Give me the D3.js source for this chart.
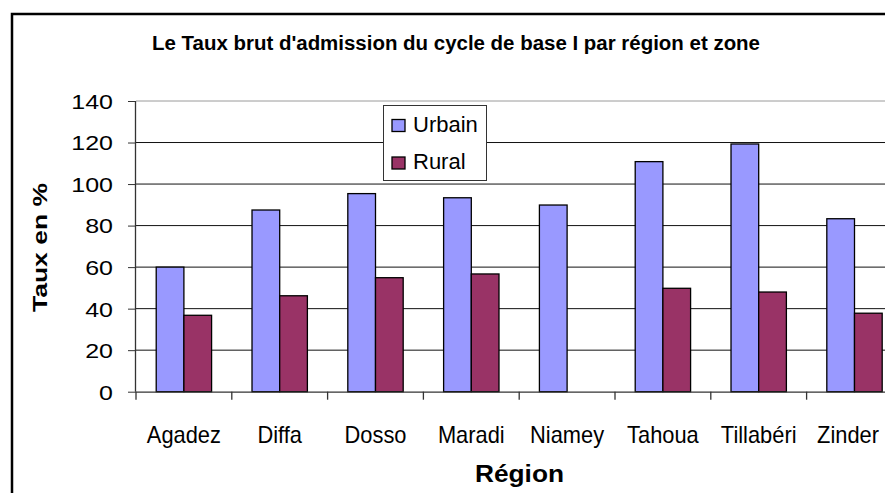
<!DOCTYPE html>
<html><head><meta charset="utf-8">
<script src="https://cdn.jsdelivr.net/npm/d3@7"></script>
<style>
html,body{margin:0;padding:0;background:#fff;overflow:hidden;}
svg{display:block;font-family:"Liberation Sans",Arial,sans-serif;}
</style></head>
<body>
<svg id="chart" width="885" height="493"></svg>
<script>
const title = "Le Taux brut d'admission du cycle de base I par région et zone";
const categories = ["Agadez","Diffa","Dosso","Maradi","Niamey","Tahoua","Tillabéri","Zinder"];
const seriesNames = ["Urbain","Rural"];
const urbain = [60.0, 87.5, 95.4, 93.4, 89.9, 110.8, 119.3, 83.3];
const rural  = [36.8, 46.2, 54.9, 56.7, null, 49.8, 48.0, 37.8];
const yTicks = [0,20,40,60,80,100,120,140];
const colors = ["#9999FF","#993366"];
const yTitle = "Taux en %";
const xTitle = "Région";

const svg = d3.select("#chart");
const plot = {left:136, right:902.4, top:101, bottom:391.7};

// outer frame
svg.append("rect").attr("x",12).attr("y",14).attr("width",960).attr("height",600)
  .attr("fill","#fff").attr("stroke","#000").attr("stroke-width",2.5);

const x = d3.scaleBand().domain(categories).range([plot.left, plot.right]).padding(0);
const xs = d3.scaleBand().domain(seriesNames).range([0, x.bandwidth()]).paddingInner(0).paddingOuter(0.73);
const y = d3.scaleLinear().domain([0,140]).range([plot.bottom, plot.top]);

// gridlines
svg.append("g").selectAll("line").data(yTicks.filter(t=>t>0)).join("line")
  .attr("x1",plot.left).attr("x2",plot.right)
  .attr("y1",d=>y(d)).attr("y2",d=>y(d))
  .attr("stroke",d=>d===140?"#9a9a9a":"#111").attr("stroke-width",1);

// bars
const data = categories.map((c,i)=>({c, vals:[urbain[i], rural[i]]}));
const groups = svg.append("g").selectAll("g").data(data).join("g")
  .attr("transform",d=>`translate(${x(d.c)},0)`);
groups.selectAll("rect").data(d=>d.vals.map((v,j)=>({v, s:seriesNames[j], j})).filter(e=>e.v!=null))
  .join("rect")
  .attr("x",e=>xs(e.s)).attr("width",xs.bandwidth())
  .attr("y",e=>y(e.v)).attr("height",e=>y(0)-y(e.v))
  .attr("fill",e=>colors[e.j]).attr("stroke","#000").attr("stroke-width",1.3);

// y axis
const yAxis = d3.axisLeft(y).tickValues(yTicks).tickSize(8).tickPadding(15);
const gy = svg.append("g").attr("transform",`translate(${plot.left},0)`).call(yAxis);
gy.select(".domain").attr("stroke","#333").attr("stroke-width",1.3).attr("d",`M-0.5,${plot.top}V${plot.bottom}`);
gy.selectAll(".tick line").attr("stroke","#333");
gy.selectAll(".tick text").attr("font-size",20.5).attr("fill","#000")
  .attr("font-family","'Liberation Sans',Arial,sans-serif").attr("dy","0.36em")
  .each(function(){ const w=this.getComputedTextLength(); d3.select(this).attr("textLength",w*1.22).attr("lengthAdjust","spacingAndGlyphs"); });

// x axis
const xAxis = d3.axisBottom(x).tickSize(0).tickFormat(d=>d).tickPadding(0);
const gx = svg.append("g").attr("transform",`translate(0,${plot.bottom})`).call(xAxis);
gx.select(".domain").attr("stroke","#333").attr("stroke-width",1.3).attr("d",`M${plot.left},0.5H${plot.right}`);
gx.selectAll(".tick text").attr("font-size",24).attr("fill","#000").attr("y",51).attr("dy",0)
  .attr("font-family","'Liberation Sans',Arial,sans-serif")
  .each(function(d){
    const w=this.getComputedTextLength()*0.91;
    const t=d3.select(this).attr("textLength",w).attr("lengthAdjust","spacingAndGlyphs");
    const cx = x(d)+x.bandwidth()/2;
    const overflow = cx + w/2 - 879;
    if (overflow>0) t.attr("x", -overflow);
  });
// category separator ticks
svg.append("g").selectAll("line").data(categories.concat(["_end"])).join("line")
  .attr("x1",(d,i)=>plot.left + i*x.step()).attr("x2",(d,i)=>plot.left + i*x.step())
  .attr("y1",plot.bottom).attr("y2",plot.bottom+8).attr("stroke","#333").attr("stroke-width",1.3);

// title
svg.append("text").attr("x",152).attr("y",50).attr("font-size",20).attr("font-weight","bold")
  .attr("font-family","'Liberation Sans Narrow','Arial Narrow','Liberation Sans',Arial,sans-serif")
  .attr("textLength",608).attr("lengthAdjust","spacingAndGlyphs").text(title);

// axis titles
svg.append("text").attr("transform","translate(47,247.5) rotate(-90)").attr("text-anchor","middle")
  .attr("font-size",20).attr("font-weight","bold").attr("textLength",129).attr("lengthAdjust","spacingAndGlyphs").text(yTitle);
svg.append("text").attr("x",519.5).attr("y",482).attr("text-anchor","middle")
  .attr("font-size",23).attr("font-weight","bold").attr("textLength",89).attr("lengthAdjust","spacingAndGlyphs").text(xTitle);

// legend
const lg = svg.append("g");
lg.append("rect").attr("x",383.5).attr("y",105.5).attr("width",103).attr("height",75)
  .attr("fill","#fff").attr("stroke","#333").attr("stroke-width",1);
const items = lg.selectAll("g").data(seriesNames).join("g")
  .attr("transform",(d,i)=>`translate(392,${119.5+i*37.5})`);
items.append("rect").attr("width",13).attr("height",12).attr("fill",(d,i)=>colors[i]).attr("stroke","#000").attr("stroke-width",1.3);
items.append("text").attr("x",21).attr("y",12.3).attr("font-size",22).text(d=>d);
</script>
</body></html>
